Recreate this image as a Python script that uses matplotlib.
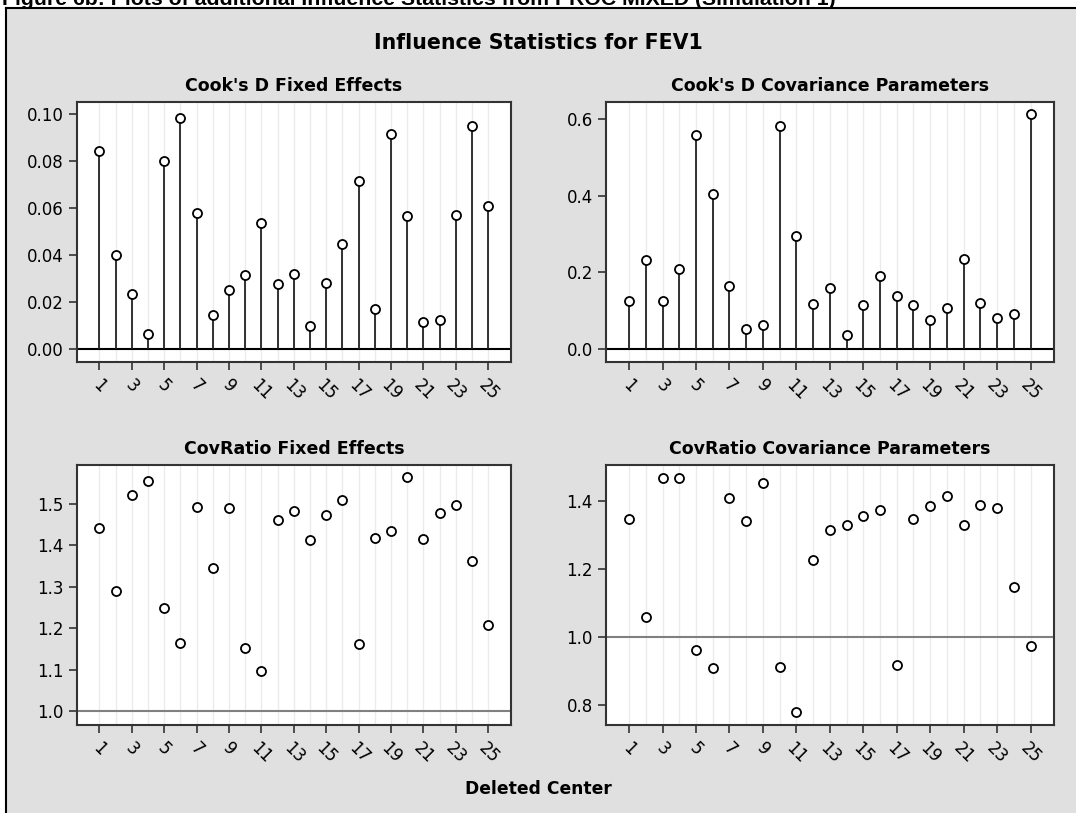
import matplotlib
matplotlib.use('Agg')
import matplotlib.pyplot as plt
from matplotlib.patches import Rectangle
from matplotlib.lines import Line2D

# deleted center 1..25
centers = list(range(1, 26))

cooksd_fixed = [0.0844, 0.0399, 0.0233, 0.0063, 0.0801, 0.0984, 0.0577, 0.0146, 0.0251,
                0.0313, 0.0537, 0.0277, 0.0320, 0.0099, 0.0281, 0.0447, 0.0713, 0.0172,
                0.0913, 0.0565, 0.0114, 0.0125, 0.0570, 0.0949, 0.0609]
cooksd_cov = [0.124, 0.231, 0.126, 0.209, 0.558, 0.403, 0.165, 0.052, 0.063,
              0.581, 0.294, 0.117, 0.158, 0.037, 0.114, 0.191, 0.138, 0.114,
              0.075, 0.108, 0.234, 0.121, 0.081, 0.090, 0.612]
covratio_fixed = [1.441, 1.290, 1.521, 1.555, 1.249, 1.164, 1.492, 1.346, 1.490,
                  1.152, 1.096, 1.461, 1.482, 1.412, 1.473, 1.510, 1.162, 1.418,
                  1.435, 1.564, 1.416, 1.477, 1.498, 1.362, 1.207]
covratio_cov = [1.346, 1.058, 1.468, 1.468, 0.962, 0.909, 1.408, 1.342, 1.451,
                0.912, 0.781, 1.225, 1.314, 1.329, 1.356, 1.374, 0.917, 1.346,
                1.386, 1.413, 1.329, 1.388, 1.379, 1.148, 0.975]

plt.rcParams['font.family'] = 'DejaVu Sans'

W, H = 1076, 813
fig = plt.figure(figsize=(W / 100, H / 100), dpi=100)
fig.patch.set_facecolor('white')

# grey frame (left/top border only, the rest is cut off)
fig.patches.append(Rectangle((6 / W, 0), 1, 1 - 8 / H, transform=fig.transFigure,
                             facecolor='#e0e0e0', edgecolor='none', zorder=-10))
fig.lines.append(Line2D([6 / W, 6 / W], [0, 1 - 8 / H], transform=fig.transFigure,
                        color='black', lw=1.5))
fig.lines.append(Line2D([6 / W, 1], [1 - 8 / H, 1 - 8 / H], transform=fig.transFigure,
                        color='black', lw=1.5))

# caption at the very top (cut off in the original too)
fig.text(2 / W, 1 - 5 / H,
         'Figure 6b: Plots of additional Influence Statistics from PROC MIXED (Simulation 1)',
         family='Liberation Sans', fontweight='bold', fontsize=15.3, va='baseline', ha='left')

fig.text(0.5, 1 - 43 / H, 'Influence Statistics for FEV1', ha='center', va='center',
         fontsize=14.8, fontweight='bold')
fig.text(0.5, 1 - 789 / H, 'Deleted Center', ha='center', va='center',
         fontsize=12.3, fontweight='bold')


def panel(rect, title, y, stems, ref, refcolor, ylim, yticks, fmt):
    ax = fig.add_axes(rect)
    ax.set_facecolor('white')
    ax.set_xlim(-0.38, 26.4)
    ax.set_ylim(*ylim)
    ax.set_xticks(range(1, 26, 2))
    ax.set_xticks(centers, minor=True)
    ax.tick_params(which='minor', length=0)
    ax.grid(axis='x', which='both', color='#ebebeb', lw=1, zorder=0)
    ax.set_yticks(yticks)
    ax.set_yticklabels([fmt.format(v) for v in yticks])
    ax.set_xticklabels([str(i) for i in range(1, 26, 2)], rotation=-45, ha='center')
    ax.tick_params(axis='both', which='major', length=6, width=1.2, color='#333333',
                   labelsize=12)
    ax.tick_params(axis='x', pad=4)
    for s in ax.spines.values():
        s.set_linewidth(1.5)
        s.set_color('#333333')
    ax.axhline(ref, color=refcolor, lw=1.5, zorder=2)
    if stems:
        ax.vlines(centers, ref, y, color='#222222', lw=1.3, zorder=3)
    ax.plot(centers, y, 'o', ms=6.5, mfc='white', mec='black', mew=1.3, zorder=4)
    ax.set_title(title, fontsize=12.5, fontweight='bold', pad=8)
    return ax


left1, left2 = 77 / W, 606 / W
w1, w2 = (511 - 77) / W, (1054 - 606) / W
h = 260 / H
top_b, bot_b = 1 - 362 / H, 1 - 725 / H

panel([left1, top_b, w1, h], "Cook's D Fixed Effects", cooksd_fixed, True, 0, 'black',
      (-0.0055, 0.1051), [0, 0.02, 0.04, 0.06, 0.08, 0.10], '{:.2f}')
panel([left2, top_b, w2, h], "Cook's D Covariance Parameters", cooksd_cov, True, 0, 'black',
      (-0.034, 0.644), [0, 0.2, 0.4, 0.6], '{:.1f}')
panel([left1, bot_b, w1, h], 'CovRatio Fixed Effects', covratio_fixed, False, 1.0, '#808080',
      (0.966, 1.594), [1.0, 1.1, 1.2, 1.3, 1.4, 1.5], '{:.1f}')
panel([left2, bot_b, w2, h], 'CovRatio Covariance Parameters', covratio_cov, False, 1.0, '#808080',
      (0.742, 1.505), [0.8, 1.0, 1.2, 1.4], '{:.1f}')

fig.savefig('out.png', dpi=100)
